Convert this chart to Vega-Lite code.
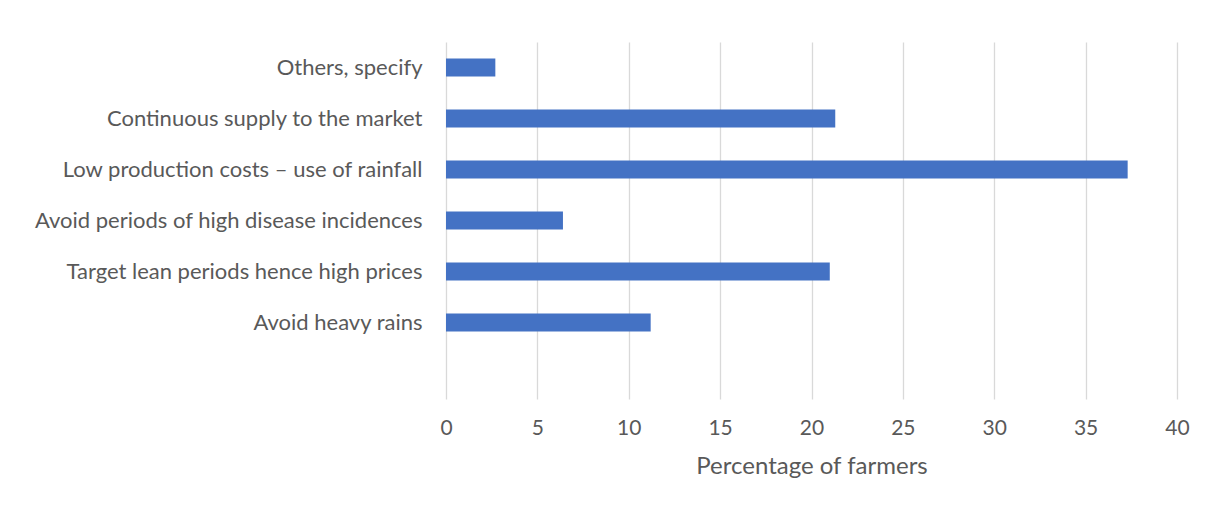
{
  "$schema": "https://vega.github.io/schema/vega-lite/v6.json",
  "width": 731,
  "height": 357,
  "autosize": "none",
  "padding": {"left": 446, "top": 42, "right": 31, "bottom": 109},
  "background": "white",
  "config": {"view": {"stroke": null}, "font": "Lato"},
  "data": {"values": [
    {"reason": "Others, specify", "pct": 2.7},
    {"reason": "Continuous supply to the market", "pct": 21.3},
    {"reason": "Low production costs – use of rainfall", "pct": 37.3},
    {"reason": "Avoid periods of high disease incidences", "pct": 6.4},
    {"reason": "Target lean periods hence high prices", "pct": 21.0},
    {"reason": "Avoid heavy rains", "pct": 11.2}
  ]},
  "mark": {"type": "bar", "color": "#4472C4"},
  "encoding": {
    "y": {
      "field": "reason", "type": "nominal",
      "scale": {
        "domain": ["Others, specify", "Continuous supply to the market", "Low production costs – use of rainfall", "Avoid periods of high disease incidences", "Target lean periods hence high prices", "Avoid heavy rains", " "],
        "paddingInner": 0.647, "paddingOuter": 0.3235
      },
      "axis": {
        "title": null, "domain": false, "ticks": false, "grid": false,
        "labelPadding": 24, "labelFontSize": 22, "labelColor": "#595959",
        "labelFont": "Lato", "labelLimit": 500
      }
    },
    "x": {
      "field": "pct", "type": "quantitative",
      "scale": {"domain": [0, 40], "nice": false},
      "axis": {
        "values": [0, 5, 10, 15, 20, 25, 30, 35, 40],
        "title": "Percentage of farmers", "titleFontSize": 24, "titleFont": "Lato",
        "titleFontWeight": "normal", "titleColor": "#595959", "titlePadding": 16,
        "domain": false, "ticks": false, "grid": true, "gridColor": "#d9d9d9", "gridWidth": 1.3,
        "labelPadding": 18, "labelFontSize": 21, "labelColor": "#595959", "labelFont": "Lato",
        "labelFlush": false
      }
    }
  }
}
